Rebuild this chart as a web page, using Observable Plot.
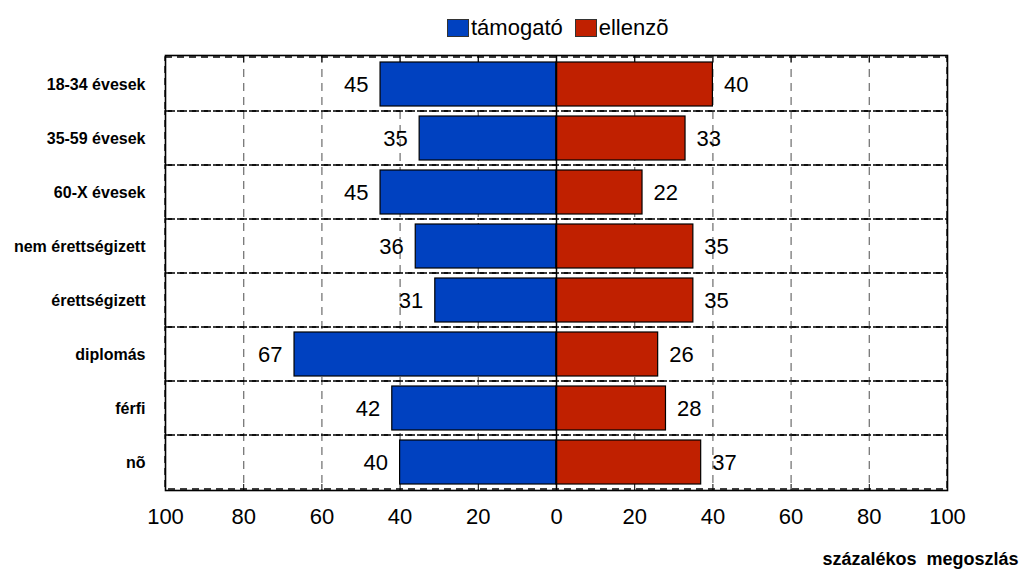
<!DOCTYPE html>
<html><head><meta charset="utf-8">
<script src="https://cdn.jsdelivr.net/npm/d3@7"></script>
<script src="https://cdn.jsdelivr.net/npm/@observablehq/plot@0.6"></script>
<style>
body{margin:0;background:#fff;font-family:"Liberation Sans",Arial,sans-serif;}
#wrap{position:relative;width:1024px;height:579px;}
#legend{position:absolute;top:14px;left:447px;height:28px;display:flex;align-items:center;font-size:22px;color:#000;}
.sw{width:20px;height:16px;border:1px solid #333;margin-right:2px;}
.it{display:flex;align-items:center;margin-right:12px;}
#chart{position:absolute;top:45px;left:0;}
</style></head>
<body><div id="wrap">
<div id="legend"></div>
<div id="chart"></div>
</div>
<script>
const categories = ["18-34 évesek","35-59 évesek","60-X évesek","nem érettségizett","érettségizett","diplomás","férfi","nõ"];
const tamogato = [45,35,45,36,31,67,42,40];
const ellenzo = [40,33,22,35,35,26,28,37];
const seriesNames = ["támogató","ellenzõ"];
const seriesColors = ["#0041C0","#C02000"];
const xTicks = [-100,-80,-60,-40,-20,0,20,40,60,80,100];
const gridTicks = [-80,-60,-40,-20,20,40,60,80];
const axisTitle = "százalékos  megoszlás";

const left = categories.map((c,i)=>({cat:c, v:tamogato[i]}));
const right = categories.map((c,i)=>({cat:c, v:ellenzo[i]}));

const lg = document.getElementById("legend");
seriesNames.forEach((n,i)=>{
  const it = document.createElement("div"); it.className="it";
  const sw = document.createElement("div"); sw.className="sw"; sw.style.background=seriesColors[i];
  const t = document.createElement("span"); t.textContent=n;
  it.appendChild(sw); it.appendChild(t); lg.appendChild(it);
});

const plot = Plot.plot({
  width: 1024,
  height: 534,
  marginLeft: 165,
  marginRight: 77,
  marginTop: 10,
  marginBottom: 89,
  style: {fontFamily: '"Liberation Sans", Arial, sans-serif', background: "#fff", overflow: "visible"},
  x: {domain: [-100, 100], label: null},
  y: {domain: categories, padding: 0, label: null},
  marks: [
    Plot.ruleX(gridTicks, {stroke: "#777", strokeWidth: 1.3, strokeDasharray: "8,6"}),
    Plot.barX(categories, {y: d=>d, x1: -100, x2: 100, fill: "none", stroke: "#000", strokeWidth: 1.3, strokeDasharray: "7,5"}),
    Plot.barX(left, {y: "cat", x1: 0, x2: d=>-d.v, fill: seriesColors[0], stroke: "#000", strokeWidth: 1.2, insetTop: 5, insetBottom: 5}),
    Plot.barX(right, {y: "cat", x1: 0, x2: "v", fill: seriesColors[1], stroke: "#000", strokeWidth: 1.2, insetTop: 5, insetBottom: 5}),
    Plot.ruleX([0], {stroke: "#000", strokeWidth: 1.5}),
    Plot.text(left, {y: "cat", x: d=>-d.v, text: d=>String(d.v), textAnchor: "end", dx: -12, fontSize: 22, fill: "#000"}),
    Plot.text(right, {y: "cat", x: "v", text: d=>String(d.v), textAnchor: "start", dx: 11, fontSize: 22, fill: "#000"}),
    Plot.axisX({anchor: "bottom", ticks: xTicks, tickSize: -6, tickFormat: ()=> "", stroke: "#000", label: null}),
    Plot.axisX({anchor: "top", ticks: xTicks, tickSize: -6, tickFormat: ()=> "", stroke: "#000", label: null}),
    Plot.axisX({anchor: "bottom", ticks: xTicks, tickSize: 0, tickPadding: 18, tickFormat: d=>String(Math.abs(d)), fontSize: 22, fill: "#000", label: null}),
    Plot.axisY({tickSize: 0, tickPadding: 20, fontSize: 16, fontWeight: "bold", fill: "#000", label: null}),
    Plot.frame({stroke: "#000", strokeWidth: 1.6}),
    Plot.text([axisTitle], {frameAnchor: "bottom-right", text: d=>d, dy: 74, dx: 71, fontSize: 18, fontWeight: "bold", fill: "#000", textAnchor: "end"})
  ]
});
document.getElementById("chart").appendChild(plot);
</script>
</body></html>
